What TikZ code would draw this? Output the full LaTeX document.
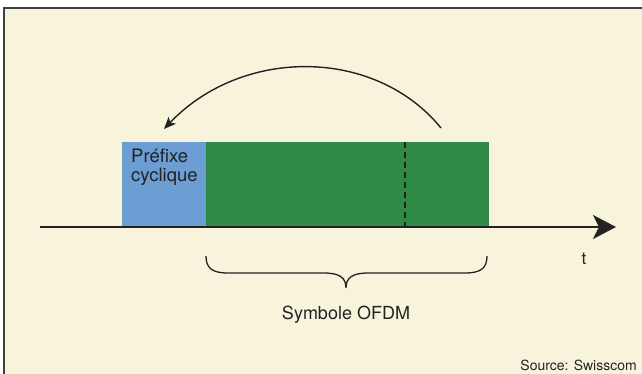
\documentclass[tikz,border=0pt]{standalone}
\usepackage{fontspec}
\setmainfont{TeX Gyre Heros}
\usetikzlibrary{arrows.meta}
\definecolor{cream}{HTML}{F8F4DC}
\definecolor{cpblue}{HTML}{6C9DD3}
\definecolor{symgreen}{HTML}{2F8A45}
\definecolor{ink}{HTML}{222222}
\tikzset{
  block/.style={draw=none, inner sep=0pt, minimum height=84pt},
  lbl/.style={text=ink, inner sep=0pt},
  conn/.style={draw=ink, line width=1.4pt}
}
\begin{document}
\begin{tikzpicture}[x=1pt,y=-1pt]
\useasboundingbox (0,0) rectangle (642,373);
\fill[white] (0,0) rectangle (642,373);
\filldraw[fill=cream, draw=black!75, line width=1.3pt] (4,8) rectangle (645,380);
% blocks
\node[block, fill=cpblue, minimum width=84pt, anchor=north west] (cp) at (122,142) {};
\node[block, fill=symgreen, minimum width=283pt, anchor=north west] (sym) at (206,142) {};
\node[lbl, font=\fontsize{18.5}{19.5}\selectfont, align=left, anchor=base west] (cptext) at (131,181.5) {Préfixe\\cyclique};
% dashed line
\coordinate (d1) at (405,142);
\coordinate (d2) at (405,226);
\draw[ink, line width=1.4pt, dash pattern=on 6pt off 4pt] (d1) -- (d2);
% time axis
\coordinate (ax1) at (40,227);
\coordinate (ax2) at (616,227);
\draw[conn, line width=1.8pt, -{Stealth[length=23pt,width=24pt,inset=6pt]}] (ax1) -- (ax2);
\node[lbl, font=\fontsize{17}{20}\selectfont, anchor=base] (t) at (584,264) {t};
% curved arrow
\coordinate (c1) at (441,128);
\coordinate (c2) at (164,129);
\draw[conn, -{Stealth[length=12pt,width=10pt,inset=3pt]}] (c1) .. controls (375,47) and (242,47) .. (c2);
% brace
\coordinate (b1) at (206,256);
\coordinate (b2) at (487,256);
\coordinate (bm) at (346,288);
\draw[conn, line width=1.3pt] (b1) .. controls (206,268) and (212,273) .. (228,273) -- (324,273) .. controls (340,273) and (346,278) .. (bm) .. controls (346,278) and (352,273) .. (368,273) -- (465,273) .. controls (481,273) and (487,268) .. (b2);
\node[lbl, font=\fontsize{18}{20}\selectfont, anchor=base] (symtext) at (346,319) {Symbole OFDM};
\node[lbl, font=\fontsize{14}{16}\selectfont, anchor=base east] (src) at (637,370) {Source: Swisscom};
\end{tikzpicture}
\end{document}
